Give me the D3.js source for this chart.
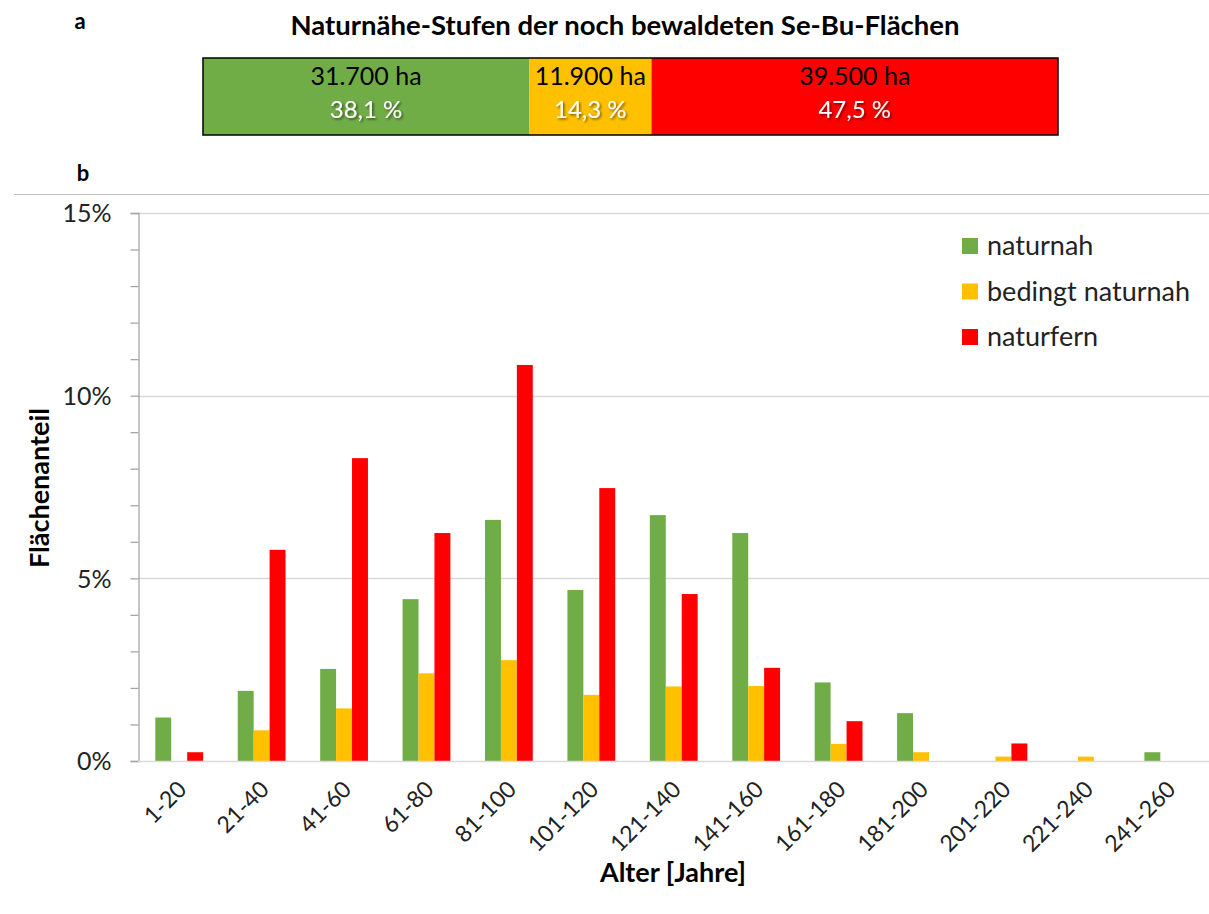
<!DOCTYPE html>
<html><head><meta charset="utf-8">
<script src="https://cdn.jsdelivr.net/npm/d3@7"></script>
<style>body{margin:0;background:#fff}svg{display:block}text{font-family:Lato,"Open Sans",sans-serif}</style>
</head><body>
<svg id="c" width="1209" height="914"></svg>
<script>
const categories = ["1-20","21-40","41-60","61-80","81-100","101-120","121-140","141-160","161-180","181-200","201-220","221-240","241-260"];
const seriesNames = ["naturnah","bedingt naturnah","naturfern"];
const naturnah = [1.19,1.92,2.52,4.43,6.60,4.68,6.73,6.24,2.15,1.31,0,0,0.24];
const bedingt = [0,0.84,1.44,2.40,2.76,1.81,2.04,2.05,0.47,0.24,0.12,0.12,0];
const naturfern = [0.24,5.78,8.29,6.24,10.84,7.47,4.57,2.55,1.09,0,0.48,0,0];
const colors = ["#70ad47","#ffc000","#ff0000"];
const yTicks = [0,5,10,15];
const summaryHa = ["31.700 ha","11.900 ha","39.500 ha"];
const summaryPct = [38.1,14.3,47.5];
const summaryPctLabels = ["38,1 %","14,3 %","47,5 %"];

const svg = d3.select("#c");
const series = [naturnah,bedingt,naturfern];

svg.append("text").attr("x",625).attr("y",35).attr("text-anchor","middle")
  .attr("font-size",27.5).attr("font-weight","bold").text("Naturnähe-Stufen der noch bewaldeten Se-Bu-Flächen");
svg.append("text").attr("x",80).attr("y",29).attr("text-anchor","middle")
  .attr("font-size",22).attr("font-weight","bold").text("a");
svg.append("text").attr("x",83).attr("y",181).attr("text-anchor","middle")
  .attr("font-size",22).attr("font-weight","bold").text("b");

const defs = svg.append("defs");
const f = defs.append("filter").attr("id","sh").attr("x","-20%").attr("y","-20%").attr("width","140%").attr("height","140%");
f.append("feDropShadow").attr("dx",1.5).attr("dy",1.5).attr("stdDeviation",1).attr("flood-color","#000").attr("flood-opacity",0.55);

const sx = d3.scaleLinear().domain([0,100]).range([203,1058]);
let cum = 0;
const segs = summaryPct.map((p,i)=>{const s={x0:cum,x1:cum+p,i}; cum+=p; return s;});
const tot = cum;
segs.forEach(s=>{s.x0=s.x0/tot*100; s.x1=s.x1/tot*100;});
svg.selectAll("rect.seg").data(segs).join("rect").attr("class","seg")
  .attr("x",d=>sx(d.x0)).attr("width",d=>sx(d.x1)-sx(d.x0))
  .attr("y",58).attr("height",77).attr("fill",d=>colors[d.i]);
svg.append("rect").attr("x",203).attr("y",58).attr("width",855).attr("height",77)
  .attr("fill","none").attr("stroke","#000").attr("stroke-width",1.5);
svg.selectAll("text.ha").data(segs).join("text").attr("class","ha")
  .attr("x",d=>(sx(d.x0)+sx(d.x1))/2).attr("y",85).attr("text-anchor","middle")
  .attr("font-size",25).attr("fill","#000").text(d=>summaryHa[d.i]);
svg.selectAll("text.pct").data(segs).join("text").attr("class","pct")
  .attr("x",d=>(sx(d.x0)+sx(d.x1))/2).attr("y",118).attr("text-anchor","middle")
  .attr("font-size",24).attr("fill","#fff").attr("filter","url(#sh)").text(d=>summaryPctLabels[d.i]);

svg.append("line").attr("x1",14).attr("x2",1209).attr("y1",194.5).attr("y2",194.5).attr("stroke","#bfbfbf").attr("stroke-width",1.2);

const x0 = d3.scaleBand().domain(categories).range([138,1209.5]).paddingInner(0.42).paddingOuter(0.21);
const x1 = d3.scaleBand().domain([0,1,2]).range([0,x0.bandwidth()]);
const y = d3.scaleLinear().domain([0,15]).range([761,213]);

svg.append("g").selectAll("line").data(yTicks.filter(t=>t>0)).join("line")
  .attr("x1",138).attr("x2",1209).attr("y1",d=>Math.round(y(d))+0.5).attr("y2",d=>Math.round(y(d))+0.5)
  .attr("stroke","#d9d9d9").attr("stroke-width",1.3);

const yAxis = d3.axisLeft(y).tickValues(d3.range(0,16,1)).tickSize(8).tickFormat(d=>yTicks.includes(d)?d+"%":"");
const ga = svg.append("g").attr("transform","translate(138.5,0)").call(yAxis);
ga.select(".domain").attr("stroke","#a6a6a6").attr("stroke-width",1.3);
ga.selectAll(".tick line").attr("stroke","#a6a6a6").attr("stroke-width",1.3);
ga.selectAll(".tick text").attr("font-size",25).attr("fill","#222").attr("x",-27).attr("dy","0.35em")
  .style("font-family","Lato,'Open Sans',sans-serif");

const g = svg.append("g");
categories.forEach((c,ci)=>{
  series.forEach((s,si)=>{
    const v = s[ci];
    if(v<=0) return;
    g.append("rect").attr("x",x0(c)+x1(si)).attr("width",x1.bandwidth())
      .attr("y",y(v)).attr("height",y(0)-y(v)).attr("fill",colors[si]);
  });
});

svg.append("line").attr("x1",138).attr("x2",1209).attr("y1",761.5).attr("y2",761.5).attr("stroke","#d9d9d9").attr("stroke-width",1.5);

svg.append("g").selectAll("text").data(categories).join("text")
  .attr("transform",d=>`translate(${x0(d)+x0.bandwidth()/2-3},${779}) rotate(-45)`)
  .attr("text-anchor","end").attr("dy","0.72em").attr("font-size",23).attr("fill","#222").text(d=>d);

svg.append("text").attr("x",673).attr("y",882).attr("text-anchor","middle").attr("font-size",27).attr("font-weight","bold").text("Alter [Jahre]");
svg.append("text").attr("transform","translate(49,488) rotate(-90)").attr("text-anchor","middle").attr("font-size",27).attr("font-weight","bold").text("Flächenanteil");

const lg = svg.append("g");
seriesNames.forEach((n,i)=>{
  const yy = 246 + i*45.5;
  lg.append("rect").attr("x",962).attr("y",yy-8).attr("width",16).attr("height",16).attr("fill",colors[i]);
  lg.append("text").attr("x",987).attr("y",yy).attr("dy","0.35em").attr("font-size",27).attr("fill","#222").text(n);
});
</script>
</body></html>
